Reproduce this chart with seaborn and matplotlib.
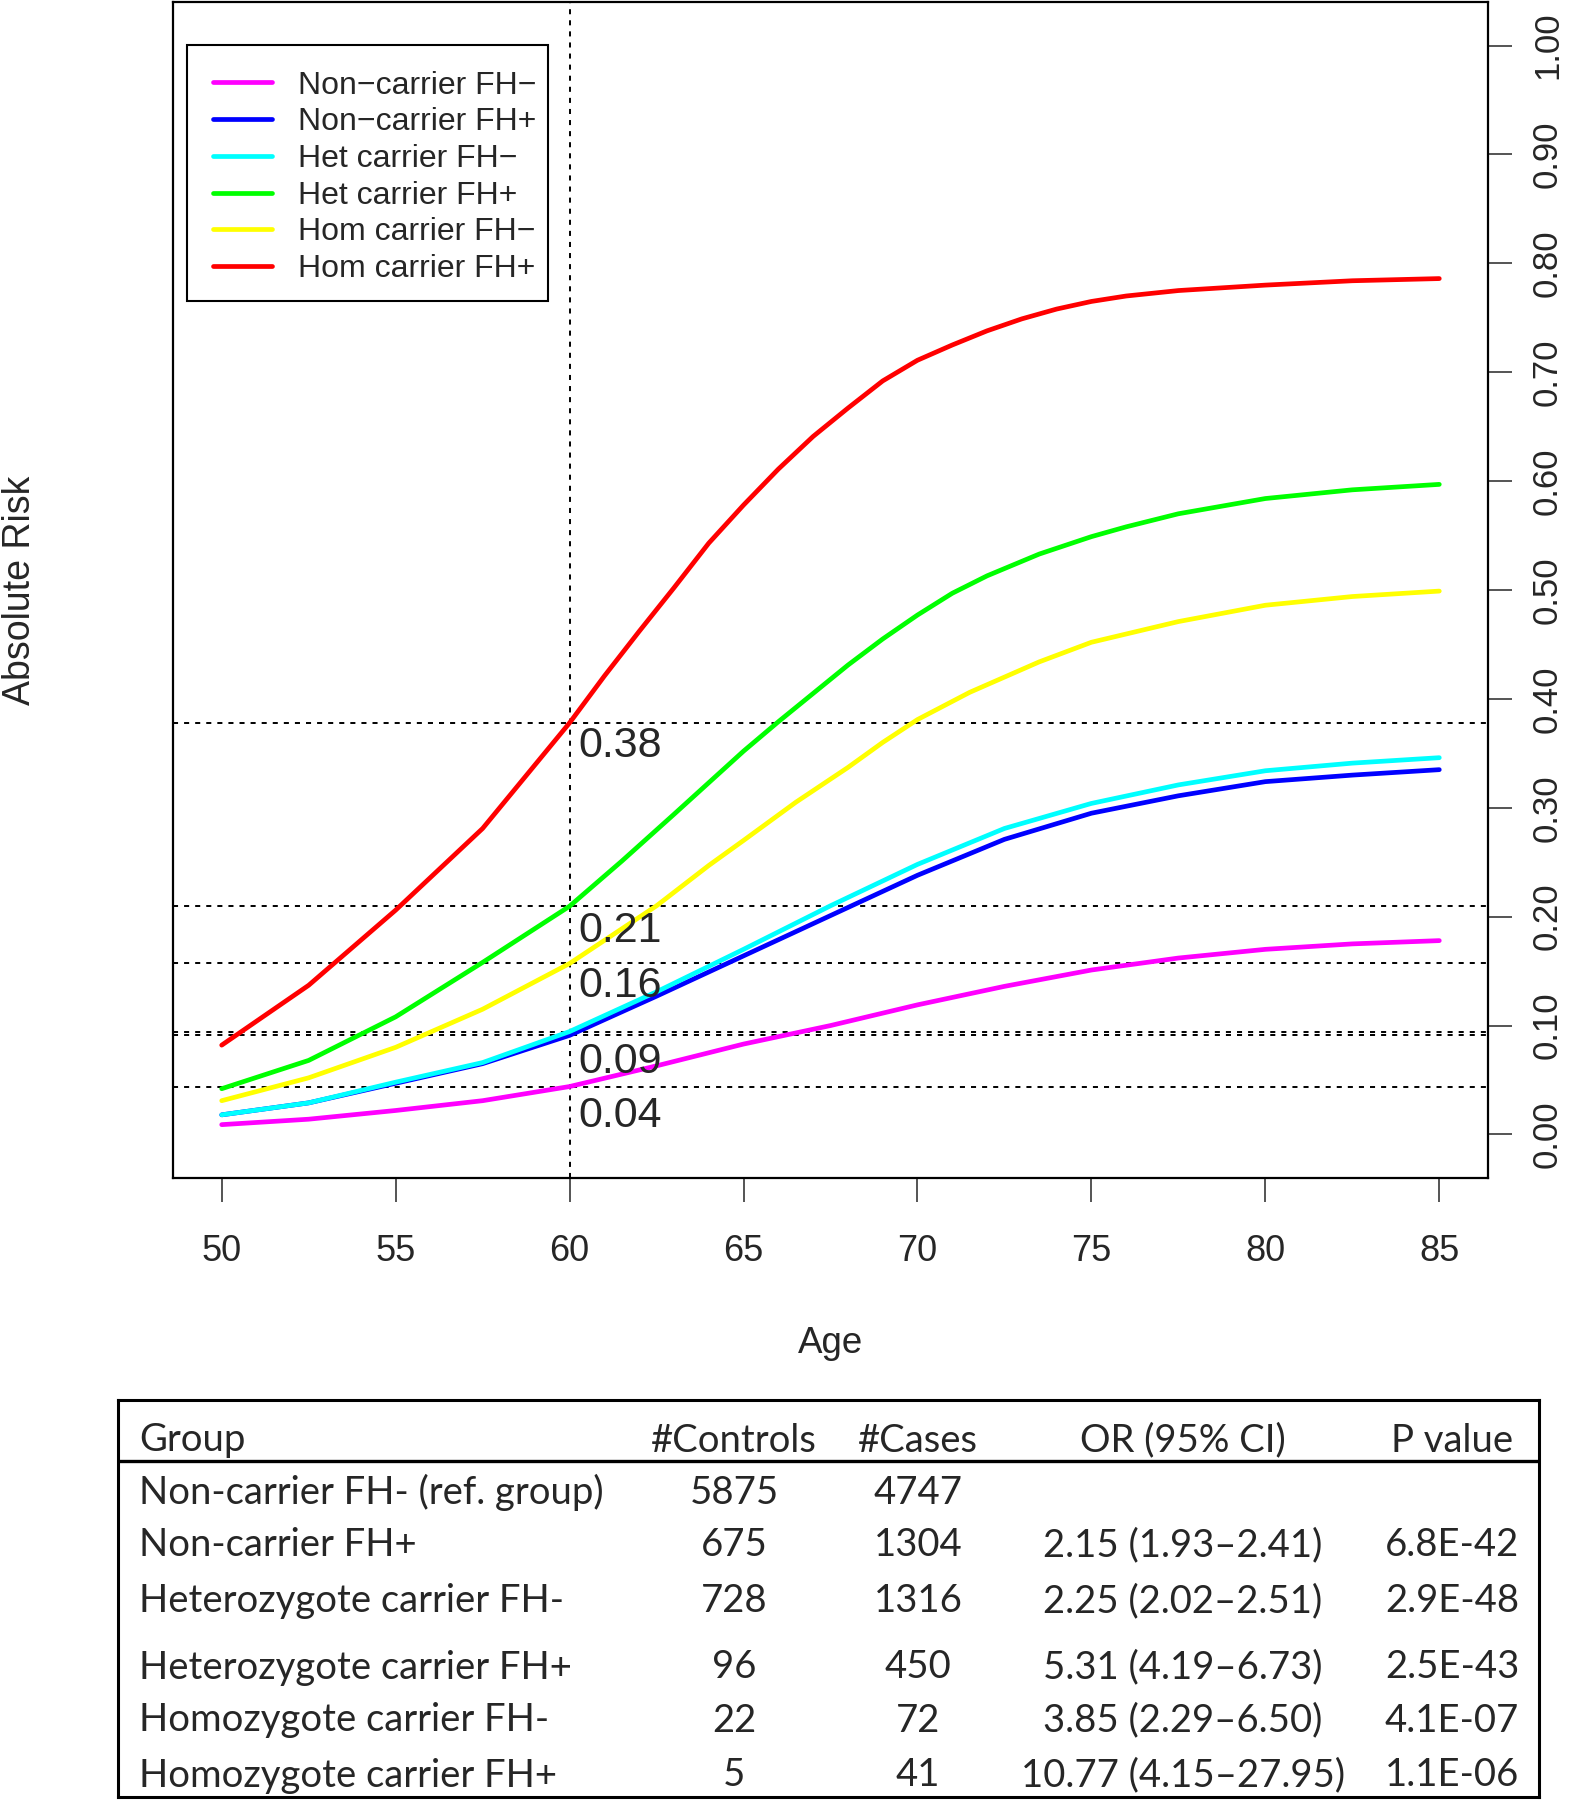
import numpy as np
import pandas as pd
import seaborn as sns
import matplotlib.pyplot as plt
from matplotlib.patches import Rectangle

# Absolute risk curves (age 50-85)
ages = [50, 52.5, 55, 57.5, 60, 62.5, 65, 67.5, 70, 72.5, 75, 77.5, 80, 82.5, 85]
risk_non_fhneg = [0.009, 0.014, 0.022, 0.031, 0.044, 0.063, 0.083, 0.100, 0.119, 0.136, 0.151, 0.162, 0.170, 0.175, 0.178]
risk_non_fhpos = [0.018, 0.029, 0.047, 0.065, 0.091, 0.127, 0.164, 0.201, 0.238, 0.271, 0.295, 0.311, 0.324, 0.330, 0.335]
risk_het_fhneg = [0.018, 0.029, 0.048, 0.066, 0.0945, 0.131, 0.170, 0.210, 0.248, 0.281, 0.304, 0.321, 0.334, 0.341, 0.346]

# the steeper curves were read at a finer age step
ages_het_fhpos = [50, 52.5, 55, 57.5, 60, 61.5, 63, 64, 65, 66, 67, 68, 69, 70, 71, 72, 73.5, 75, 76, 77.5, 80, 82.5, 85]
risk_het_fhpos = [0.042, 0.068, 0.108, 0.158, 0.2096, 0.251, 0.294, 0.323, 0.352, 0.379, 0.405, 0.431, 0.455,
                  0.477, 0.497, 0.513, 0.533, 0.549, 0.558, 0.570, 0.584, 0.592, 0.597]
ages_hom_fhneg = [50, 52.5, 55, 57.5, 60, 62.5, 64, 65, 66.5, 68, 69, 70, 71.5, 73.5, 75, 77.5, 80, 82.5, 85]
risk_hom_fhneg = [0.031, 0.052, 0.080, 0.115, 0.157, 0.210, 0.247, 0.270, 0.305, 0.337, 0.360, 0.381, 0.406,
                  0.434, 0.452, 0.471, 0.486, 0.494, 0.499]
ages_hom_fhpos = [50, 52.5, 55, 57.5, 60, 61, 62, 63, 64, 65, 66, 67, 68, 69, 70, 71, 72, 73, 74, 75, 76,
                  77.5, 80, 82.5, 85]
risk_hom_fhpos = [0.082, 0.137, 0.206, 0.281, 0.378, 0.421, 0.462, 0.502, 0.543, 0.578, 0.611, 0.641, 0.667,
                  0.692, 0.711, 0.725, 0.738, 0.749, 0.758, 0.765, 0.770, 0.775, 0.780, 0.784, 0.786]

groups = ["Non\u2212carrier FH\u2212", "Non\u2212carrier FH+", "Het carrier FH\u2212",
          "Het carrier FH+", "Hom carrier FH\u2212", "Hom carrier FH+"]
colors = ["#FF00FF", "#0000FF", "#00FFFF", "#00FF00", "#FFFF00", "#FF0000"]
curve_ages = [ages, ages, ages, ages_het_fhpos, ages_hom_fhneg, ages_hom_fhpos]
curves = [risk_non_fhneg, risk_non_fhpos, risk_het_fhneg, risk_het_fhpos, risk_hom_fhneg, risk_hom_fhpos]

# risk at age 60 (reference lines) and the rounded labels
ref_age = 60
risk_at_60 = [0.044, 0.091, 0.0945, 0.2096, 0.157, 0.378]
label_vals = [0.38, 0.21, 0.16, 0.09, 0.04]

# table under the plot
tab_header = ["Group", "#Controls", "#Cases", "OR (95% CI)", "P value"]
tab_group = ["Non-carrier FH- (ref. group)", "Non-carrier FH+", "Heterozygote carrier FH-",
             "Heterozygote carrier FH+", "Homozygote carrier FH-", "Homozygote carrier FH+"]
tab_controls = ["5875", "675", "728", "96", "22", "5"]
tab_cases = ["4747", "1304", "1316", "450", "72", "41"]
tab_or = ["", "2.15 (1.93\u20132.41)", "2.25 (2.02\u20132.51)", "5.31 (4.19\u20136.73)",
          "3.85 (2.29\u20136.50)", "10.77 (4.15\u201327.95)"]
tab_p = ["", "6.8E-42", "2.9E-48", "2.5E-43", "4.1E-07", "1.1E-06"]

sns.set_style("ticks")
plt.rcParams["font.family"] = ["Liberation Sans", "DejaVu Sans"]

W, H = 1572, 1800
fig = plt.figure(figsize=(W / 100, H / 100), dpi=100)
ax = fig.add_axes([173 / W, 1 - 1178 / H, 1315 / W, 1176 / H])

rows = []
for g, xa, c in zip(groups, curve_ages, curves):
    for a, r in zip(xa, c):
        rows.append({"age": a, "risk": r, "group": g})
df = pd.DataFrame(rows)

sns.lineplot(data=df, x="age", y="risk", hue="group", hue_order=groups, palette=colors,
             linewidth=3.4, ax=ax, solid_capstyle="round", solid_joinstyle="round", legend=True)

# dotted reference lines
dots = (0, (2.6, 3.1))
ax.axvline(ref_age, color="black", lw=1.4, ls=dots, zorder=1)
for v in risk_at_60:
    ax.axhline(v, color="black", lw=1.4, ls=dots, zorder=1)
for v in label_vals:
    ax.annotate(f"{v:.2f}", xy=(ref_age, v), xytext=(6, -4), textcoords="offset points",
                ha="left", va="top", fontsize=31)

ax.set_xlim(48.6, 86.4)
ax.set_ylim(-0.04, 1.04)
ax.set_xticks(range(50, 90, 5))
yt = np.round(np.arange(0, 1.01, 0.1), 2)
ax.set_yticks(yt)
ax.set_yticklabels([f"{v:.2f}" for v in yt], rotation=90, va="center")
ax.yaxis.tick_right()
ax.tick_params(axis="x", labelsize=26, length=17, width=1.1, pad=23, direction="out")
ax.tick_params(axis="y", labelsize=25, length=17, width=1.1, pad=14, direction="out")
for s in ax.spines.values():
    s.set_linewidth(1.6)
    s.set_color("black")

ax.set_xlabel("Age", fontsize=26.5)
ax.xaxis.set_label_coords(0.5, -0.1258)
ax.set_ylabel("Absolute Risk", fontsize=27)
ax.yaxis.set_label_position("left")
ax.yaxis.set_label_coords(-0.1027, 0.5)

leg = ax.legend(loc="upper left", bbox_to_anchor=(0.0107, 0.9634), fontsize=23, frameon=False,
                handlelength=1.85, handletextpad=0.81, borderpad=0.8, labelspacing=0.21,
                borderaxespad=0)
for line in leg.get_lines():
    line.set_linewidth(3.4)
# legend box, drawn separately so its right margin is narrow as in the original
ax.add_patch(Rectangle((0.01065, 0.7457), 0.2746, 0.2177, transform=ax.transAxes,
                       facecolor="white", edgecolor="black", lw=1.5, zorder=4))

# table
tax = fig.add_axes([118 / W, 1 - 1797 / H, 1421 / W, 397 / H])
tax.set_xlim(0, 1421)
tax.set_ylim(397, 0)
tax.set_xticks([])
tax.set_yticks([])
for s in tax.spines.values():
    s.set_linewidth(2.2)
    s.set_color("black")
tax.axhline(61, color="black", lw=2.4)

tfont = dict(fontsize=27.5, family=["Lato", "DejaVu Sans"], va="baseline")
col_x = [21, 616, 800, 1065, 1334]
col_ha = ["left", "center", "center", "center", "center"]
base_y = [51.5, 104, 156.5, 212, 278.5, 331.5, 386.5]

for x, ha, t in zip(col_x, col_ha, tab_header):
    tax.text(x, base_y[0], t, ha=ha, **tfont)
for i in range(len(tab_group)):
    vals = [tab_group[i], tab_controls[i], tab_cases[i], tab_or[i], tab_p[i]]
    for x, ha, t in zip(col_x, col_ha, vals):
        tax.text(x, base_y[i + 1], t, ha=ha, **tfont)

fig.savefig("out.png", dpi=100)
